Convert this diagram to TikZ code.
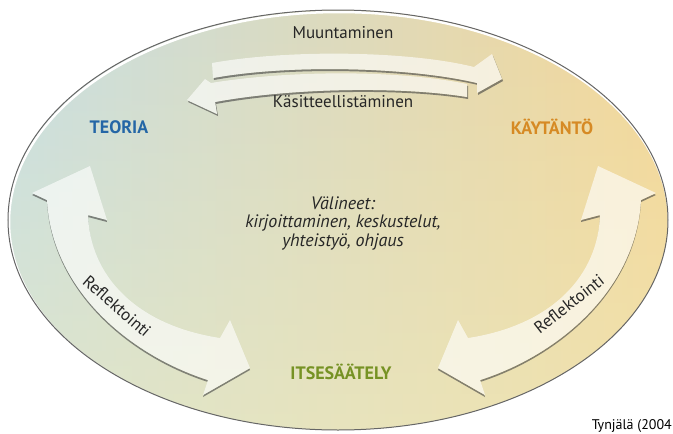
\documentclass[tikz,border=0pt]{standalone}
\usepackage{fontspec}
\setmainfont{PT Sans}
\usepackage{tikz}
\usetikzlibrary{fadings}
\definecolor{teoriablue}{RGB}{36,102,166}
\definecolor{kaytorange}{RGB}{214,138,36}
\definecolor{itsegreen}{RGB}{118,146,36}
\definecolor{ellblue}{RGB}{198,222,228}
\definecolor{ellgreen}{RGB}{224,231,184}
\definecolor{ellorange}{RGB}{244,214,150}
\definecolor{ellyellow}{RGB}{240,236,190}
\tikzstyle{label}=[font=\fontsize{17}{19}\selectfont, text=black!85, inner sep=0pt]
\tikzstyle{middle}=[font=\itshape\fontsize{18}{18.5}\selectfont, text=black!85, align=center, inner sep=0pt]
\tikzstyle{corner}=[font=\bfseries\fontsize{18}{20}\selectfont, inner sep=0pt]
\tikzstyle{body}=[fill=white, fill opacity=.62]
\tikzstyle{shadow}=[fill=black!75, fill opacity=.6]
\def\ellbg{\shade[left color=ellblue, middle color=ellgreen, right color=ellorange]
    (338,220) ellipse [x radius=330, y radius=210];
  \fill[ellyellow, path fading=north, fill opacity=.55]
    (338,220) ellipse [x radius=330, y radius=210];}

\begin{document}
\begin{tikzpicture}[x=1pt,y=-1pt]
  \useasboundingbox (0,0) rectangle (673,434);
  % ellipse
  \ellbg
  \draw[white, line width=2.5] (339,222) ellipse [x radius=330, y radius=210];
  \draw[black!60, line width=1] (338,220) ellipse [x radius=330, y radius=210];

  % arrows on top
  \def\lowerarrow{(187,100) -- (205,79) -- (211,83) .. controls (290,70) and (400,70) .. (467,84)
    -- (467,97) .. controls (400,86) and (290,88) .. (215,102) -- (217,114) -- cycle}
  \def\upperarrow{(212,63) .. controls (290,49) and (410,51) .. (474,67) -- (492,54) -- (502,79)
    -- (477,93) -- (477,83) .. controls (410,67) and (290,64) .. (213,78) -- cycle}
  \fill[shadow, shift={(1,2)}] \lowerarrow;
  \begin{scope} \clip \lowerarrow; \ellbg \end{scope}
  \fill[body] \lowerarrow;
  \fill[shadow, shift={(1,2)}] \upperarrow;
  \begin{scope} \clip \upperarrow; \ellbg \end{scope}
  \fill[body] \upperarrow;

  % arrows at the sides
  \def\sidearrow{(90,166) -- (107,220) -- (88,215) .. controls (90,275) and (135,325) .. (220,338)
    -- (230,320) -- (250,368) -- (203,395) -- (208,380) .. controls (130,355) and (52,290) .. (47,200)
    -- (32,193) -- cycle}
  \fill[shadow, shift={(0,2)}] \sidearrow;
  \begin{scope} \clip \sidearrow; \ellbg \end{scope}
  \fill[body] \sidearrow;
  \begin{scope}[xshift=688pt, xscale=-1]
    \fill[shadow, shift={(0,2)}] \sidearrow;
  \end{scope}
  \begin{scope}
    \clip[xshift=688pt, xscale=-1] \sidearrow;
    \ellbg
  \end{scope}
  \begin{scope}[xshift=688pt, xscale=-1]
    \fill[body] \sidearrow;
  \end{scope}

  \node[label] (muunt) at (343,33) {Muuntaminen};
  \node[label] (kasitt) at (343,102) {Käsitteellistäminen};
  \node[corner, text=teoriablue] (teoria) at (119,127) {TEORIA};
  \node[corner, text=kaytorange] (kaytanto) at (552,127) {KÄYTÄNTÖ};
  \node[corner, text=itsegreen] (itse) at (341,372) {ITSESÄÄTELY};
  \node[middle] (valineet) at (343,223) {Välineet:\\kirjoittaminen, keskustelut,\\yhteistyö, ohjaus};
  \node[label, rotate=-41] (refl1) at (117,306) {Reflektointi};
  \node[label, rotate=38] (refl2) at (569,304) {Reflektointi};
  \node[font=\fontsize{14}{16}\selectfont, anchor=east, inner sep=0pt] (lahde) at (672,426) {Tynjälä (2004};
\end{tikzpicture}
\end{document}
